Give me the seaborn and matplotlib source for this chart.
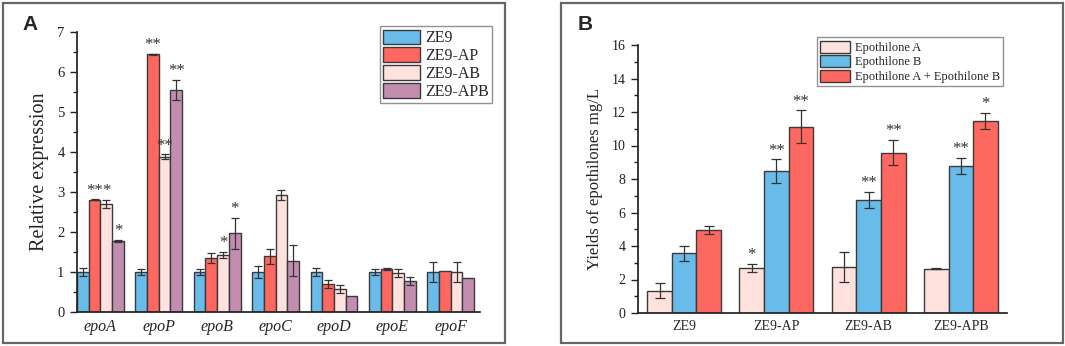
import numpy as np
import pandas as pd
import seaborn as sns
import matplotlib
matplotlib.use("Agg")
import matplotlib.pyplot as plt
from matplotlib.patches import Rectangle
from matplotlib.ticker import MultipleLocator

# ---------------- data: panel A ----------------
genes = ["epoA", "epoP", "epoB", "epoC", "epoD", "epoE", "epoF"]
strains_a = ["ZE9", "ZE9-AP", "ZE9-AB", "ZE9-APB"]
ze9_mean = [1.00, 1.00, 1.00, 1.00, 1.00, 1.00, 1.00]
ze9_err = [0.11, 0.07, 0.07, 0.14, 0.11, 0.08, 0.25]
ap_mean = [2.81, 6.44, 1.35, 1.39, 0.71, 1.08, 1.02]
ap_err = [0.01, 0.02, 0.13, 0.18, 0.10, 0.02, 0.00]
ab_mean = [2.71, 3.88, 1.43, 2.93, 0.58, 0.98, 0.99]
ab_err = [0.10, 0.06, 0.08, 0.13, 0.10, 0.10, 0.25]
apb_mean = [1.78, 5.56, 1.97, 1.28, 0.40, 0.78, 0.86]
apb_err = [0.02, 0.25, 0.39, 0.39, 0.00, 0.10, 0.00]
ze9_sig = ["", "", "", "", "", "", ""]
ap_sig = ["**", "**", "", "", "", "", ""]
ab_sig = ["*", "**", "*", "", "", "", ""]
apb_sig = ["*", "**", "*", "", "", "", ""]

# ---------------- data: panel B ----------------
strains_b = ["ZE9", "ZE9-AP", "ZE9-AB", "ZE9-APB"]
compounds = ["Epothilone A", "Epothilone B", "Epothilone A + Epothilone B"]
epoA_mean = [1.34, 2.68, 2.75, 2.65]
epoA_err = [0.47, 0.26, 0.87, 0.05]
epoB_mean = [3.56, 8.48, 6.75, 8.78]
epoB_err = [0.43, 0.70, 0.50, 0.48]
epoAB_mean = [4.96, 11.12, 9.57, 11.45]
epoAB_err = [0.23, 0.97, 0.75, 0.48]
epoA_sig = ["", "*", "", ""]
epoB_sig = ["", "**", "**", "**"]
epoAB_sig = ["", "**", "**", "*"]

# ---------------- style ----------------
C_BLUE = "#69BCE9"
C_RED = "#FF6860"
C_PINK = "#FFE1DD"
C_PURPLE = "#C38DB0"
EDGE = "#3a3a3a"

sns.set_theme(style="white")
plt.rcParams["font.family"] = ["Liberation Serif", "DejaVu Serif"]
plt.rcParams["axes.edgecolor"] = "#222222"

fig = plt.figure(figsize=(10.65, 3.46), dpi=100)

# panel frames
for x0, x1 in [(3, 505), (561, 1063)]:
    fig.patches.append(Rectangle((x0 / 1065, 3 / 346), (x1 - x0) / 1065, 340 / 346,
                                 transform=fig.transFigure, fill=False,
                                 edgecolor="#666666", linewidth=1.6))

axA = fig.add_axes([77 / 1065, 34 / 346, 403 / 1065, 280 / 346])
axB = fig.add_axes([638 / 1065, 33 / 346, 369 / 1065, 268 / 346])

# ---------- panel A ----------
dfA = pd.DataFrame({
    "gene": genes * 4,
    "strain": sum([[s] * len(genes) for s in strains_a], []),
    "value": ze9_mean + ap_mean + ab_mean + apb_mean,
})
errsA = [ze9_err, ap_err, ab_err, apb_err]
sigsA = [ze9_sig, ap_sig, ab_sig, apb_sig]
sns.barplot(data=dfA, x="gene", y="value", hue="strain", order=genes,
            hue_order=strains_a, palette=[C_BLUE, C_RED, C_PINK, C_PURPLE],
            errorbar=None, width=0.8, edgecolor=EDGE, linewidth=1.0,
            saturation=1, ax=axA, legend=False)


def add_err(ax, errs, sigs, cap, fs):
    for cont, err, sig in zip(ax.containers, errs, sigs):
        for bar, e, s in zip(cont, err, sig):
            xc = bar.get_x() + bar.get_width() / 2
            h = bar.get_height()
            if e > 0:
                ax.errorbar(xc, h, yerr=e, fmt="none", ecolor="#333333",
                            elinewidth=0.9, capsize=cap, capthick=0.9, zorder=5)
            if s:
                ax.annotate(s, (xc, h + e), xytext=(0, 0.5), textcoords="offset points",
                            ha="center", va="bottom", fontsize=fs, color="#333333")


add_err(axA, errsA, sigsA, 3.2, 12)

axA.set_ylim(0, 7)
axA.set_xlim(-0.4, 6.5)
axA.yaxis.set_major_locator(MultipleLocator(1))
axA.yaxis.set_minor_locator(MultipleLocator(0.5))
axA.set_ylabel("Relative expression", fontsize=14.5, labelpad=6)
axA.set_xlabel("")
axA.tick_params(axis="y", which="major", direction="out", length=5, width=1,
                labelsize=10.5, left=True, pad=4, colors="#222222")
axA.tick_params(axis="y", which="minor", direction="out", length=3, width=1, left=True,
                colors="#222222")
axA.tick_params(axis="x", length=0, labelsize=11.5, pad=5)
for lab in axA.get_xticklabels():
    lab.set_fontstyle("italic")
sns.despine(ax=axA)
legA = axA.legend(axA.containers, strains_a, loc="upper right",
                  bbox_to_anchor=(1.03, 1.02), fontsize=11.5, frameon=True,
                  fancybox=False, edgecolor="#777777", handlelength=2.3,
                  handleheight=1.05, handletextpad=0.35, labelspacing=0.06,
                  borderpad=0.2, borderaxespad=0)
legA.get_frame().set_linewidth(1.0)

# ---------- panel B ----------
dfB = pd.DataFrame({
    "strain": strains_b * 3,
    "compound": sum([[c] * len(strains_b) for c in compounds], []),
    "value": epoA_mean + epoB_mean + epoAB_mean,
})
errsB = [epoA_err, epoB_err, epoAB_err]
sigsB = [epoA_sig, epoB_sig, epoAB_sig]
sns.barplot(data=dfB, x="strain", y="value", hue="compound", order=strains_b,
            hue_order=compounds, palette=[C_PINK, C_BLUE, C_RED],
            errorbar=None, width=0.8, edgecolor=EDGE, linewidth=1.0,
            saturation=1, ax=axB, legend=False)
add_err(axB, errsB, sigsB, 3.5, 12)

axB.set_ylim(0, 16)
axB.set_xlim(-0.5, 3.5)
axB.yaxis.set_major_locator(MultipleLocator(2))
axB.yaxis.set_minor_locator(MultipleLocator(1))
axB.set_ylabel("Yields of epothilones mg/L", fontsize=12, labelpad=6)
axB.set_xlabel("")
axB.tick_params(axis="y", which="major", direction="out", length=5, width=1,
                labelsize=10, left=True, pad=4, colors="#222222")
axB.tick_params(axis="y", which="minor", direction="out", length=3, width=1, left=True,
                colors="#222222")
axB.tick_params(axis="x", length=0, labelsize=10, pad=5)
sns.despine(ax=axB)
legB = axB.legend(axB.containers, compounds, loc="upper left",
                  bbox_to_anchor=(0.485, 1.028), fontsize=9, frameon=True,
                  fancybox=False, edgecolor="#777777", handlelength=2.4,
                  handleheight=1.1, handletextpad=0.4, labelspacing=0.1,
                  borderpad=0.25, borderaxespad=0)
legB.get_frame().set_linewidth(1.0)

# panel letters
fig.text(22 / 1065, 1 - 25 / 346, "A", fontsize=15, fontweight="bold",
         family="Liberation Sans", va="center", ha="left")
fig.text(578 / 1065, 1 - 25 / 346, "B", fontsize=15, fontweight="bold",
         family="Liberation Sans", va="center", ha="left")

fig.savefig("out.png", dpi=100)
